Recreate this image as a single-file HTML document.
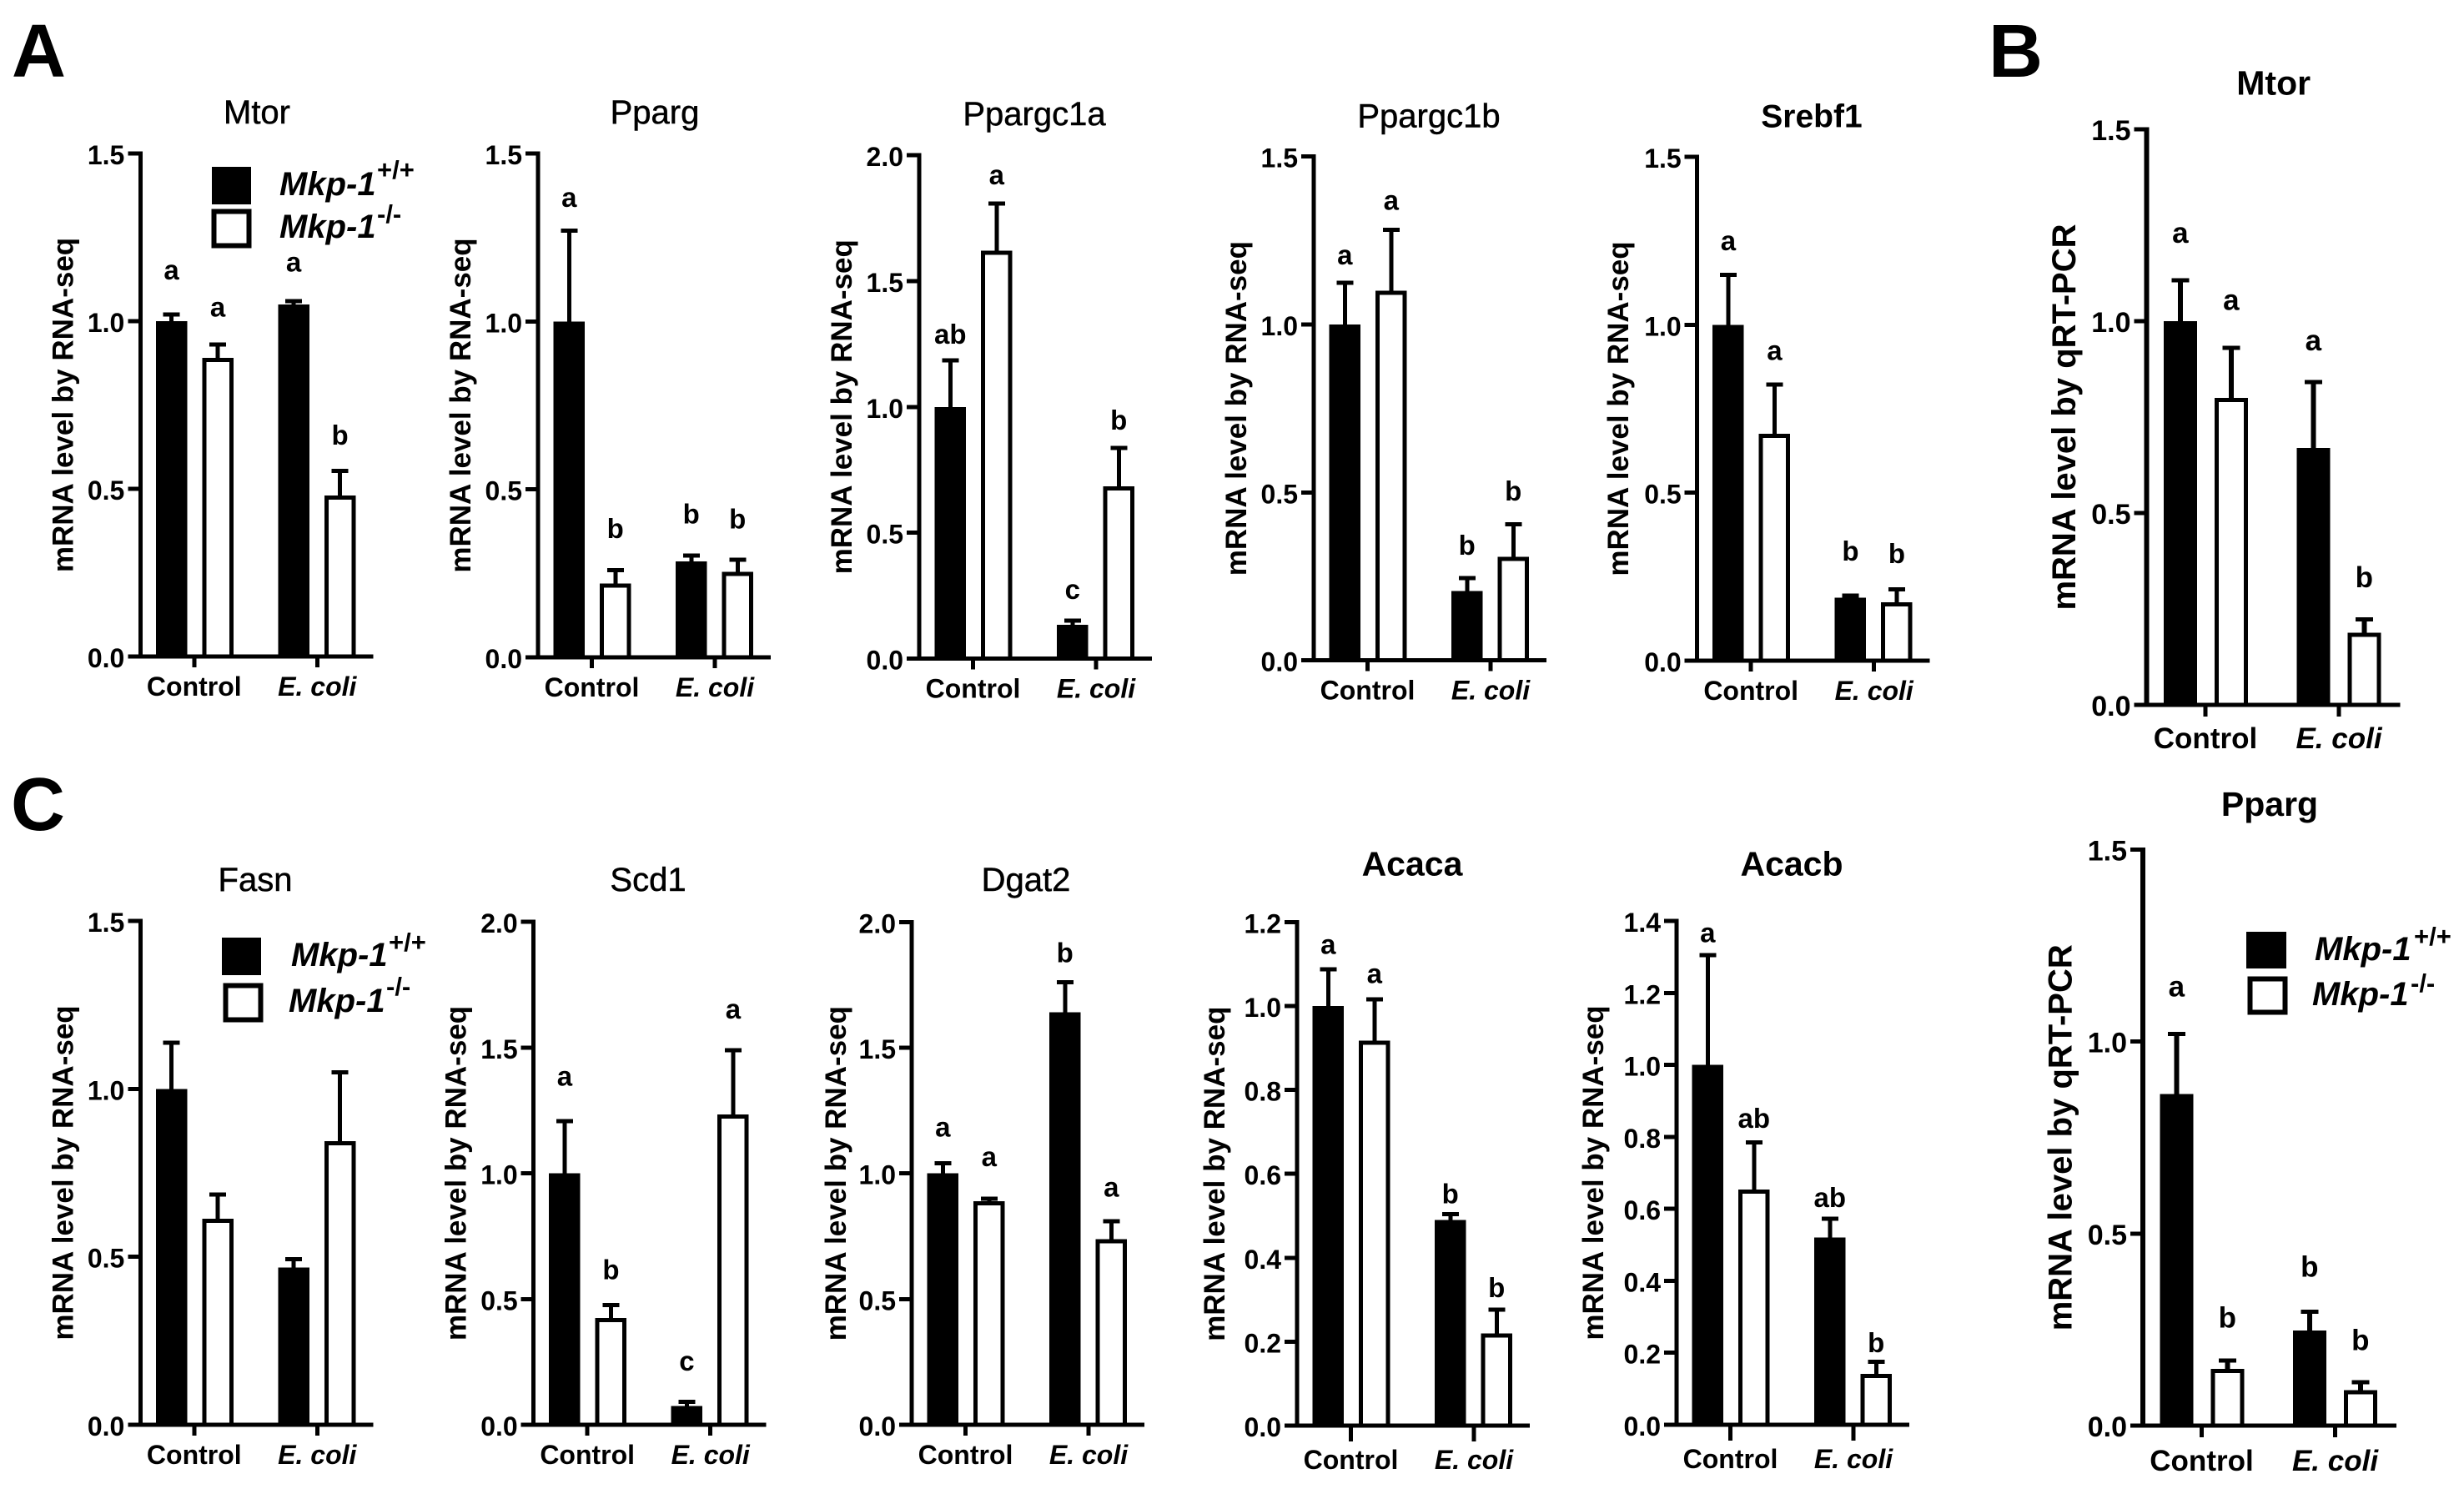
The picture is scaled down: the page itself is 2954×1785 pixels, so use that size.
<!DOCTYPE html>
<html lang="en">
<head>
<meta charset="utf-8">
<title>mRNA levels by RNA-seq and qRT-PCR</title>
<style>
html,body{margin:0;padding:0;background:#fff;width:2954px;height:1785px;overflow:hidden}
svg{display:block}
text{font-family:"Liberation Sans",Arial,sans-serif;fill:#000}
rect,line{shape-rendering:crispEdges}
.b{font-weight:700}
.bi{font-weight:700;font-style:italic}
</style>
</head>
<body>
<svg id="figure" xmlns="http://www.w3.org/2000/svg" width="2954" height="1785" viewBox="0 0 2954 1785">
  <rect x="0" y="0" width="2954" height="1785" fill="#fff"/>
  <text class="b" x="14" y="92" font-size="90">A</text>
  <text class="b" x="2384" y="92" font-size="90">B</text>
  <text class="b" x="13" y="995" font-size="90">C</text>

  <g>
    <rect x="254" y="200" width="47" height="45" fill="#000"/>
    <rect x="256.5" y="253.5" width="42" height="41" fill="#fff" stroke="#000" stroke-width="6"/>
    <text class="bi" x="335" y="234" font-size="40">Mkp-1</text>
    <text class="b" x="452" y="214" font-size="31">+/+</text>
    <text class="bi" x="335" y="285" font-size="40">Mkp-1</text>
    <text class="b" x="452" y="267" font-size="31">-/-</text>
  </g>
  <g>
    <rect x="266" y="1124" width="47" height="45" fill="#000"/>
    <rect x="270.5" y="1181.5" width="42" height="41" fill="#fff" stroke="#000" stroke-width="6"/>
    <text class="bi" x="349" y="1158" font-size="40">Mkp-1</text>
    <text class="b" x="466" y="1140" font-size="31">+/+</text>
    <text class="bi" x="346" y="1213" font-size="40">Mkp-1</text>
    <text class="b" x="463" y="1193" font-size="31">-/-</text>
  </g>
  <g>
    <rect x="2693" y="1117" width="48" height="44" fill="#000"/>
    <rect x="2697.5" y="1173.5" width="42" height="40" fill="#fff" stroke="#000" stroke-width="6"/>
    <text class="bi" x="2775" y="1151" font-size="40">Mkp-1</text>
    <text class="b" x="2894" y="1133" font-size="31">+/+</text>
    <text class="bi" x="2772" y="1205" font-size="40">Mkp-1</text>
    <text class="b" x="2890" y="1189" font-size="31">-/-</text>
  </g>
</svg>

<script>
// ---------- chart data ----------
const groupLabels = ['Control', 'E. coli'];
const genes = ['Mtor','Pparg','Ppargc1a','Ppargc1b','Srebf1','Mtor','Pparg','Fasn','Scd1','Dgat2','Acaca','Acacb'];
const panelIds = ['a-mtor','a-pparg','a-ppargc1a','a-ppargc1b','a-srebf1','b-mtor','b-pparg','c-fasn','c-scd1','c-dgat2','c-acaca','c-acacb'];
const yAxisTitles = ['mRNA level by RNA-seq','mRNA level by RNA-seq','mRNA level by RNA-seq','mRNA level by RNA-seq','mRNA level by RNA-seq','mRNA level by qRT-PCR','mRNA level by qRT-PCR','mRNA level by RNA-seq','mRNA level by RNA-seq','mRNA level by RNA-seq','mRNA level by RNA-seq','mRNA level by RNA-seq'];
const yMax = [1.5,1.5,2.0,1.5,1.5,1.5,1.5,1.5,2.0,2.0,1.2,1.4];
const yStep = [0.5,0.5,0.5,0.5,0.5,0.5,0.5,0.5,0.5,0.5,0.2,0.2];

// bar order in each panel: Control +/+, Control -/-, E. coli +/+, E. coli -/-
const means = [
  [1.00,0.89,1.05,0.48],
  [1.00,0.22,0.285,0.255],
  [1.00,1.62,0.135,0.685],
  [1.00,1.10,0.207,0.308],
  [1.00,0.675,0.188,0.174],
  [1.00,0.80,0.67,0.188],
  [0.863,0.148,0.248,0.092],
  [1.00,0.613,0.468,0.844],
  [1.00,0.425,0.075,1.234],
  [1.00,0.89,1.642,0.738],
  [1.00,0.917,0.49,0.22],
  [1.00,0.654,0.52,0.141]
];
const errorTops = [
  [1.02,0.93,1.06,0.553],
  [1.27,0.26,0.303,0.29],
  [1.185,1.807,0.15,0.837],
  [1.124,1.282,0.245,0.405],
  [1.148,0.822,0.194,0.212],
  [1.107,0.93,0.841,0.223],
  [1.02,0.169,0.297,0.113],
  [1.138,0.686,0.493,1.049],
  [1.208,0.476,0.092,1.49],
  [1.04,0.899,1.76,0.809],
  [1.087,1.016,0.504,0.276],
  [1.305,0.785,0.572,0.175]
];
const sigLetters = [
  ['a','a','a','b'],
  ['a','b','b','b'],
  ['ab','a','c','b'],
  ['a','a','b','b'],
  ['a','a','b','b'],
  ['a','a','a','b'],
  ['a','b','b','b'],
  ['','','',''],
  ['a','b','c','a'],
  ['a','a','b','a'],
  ['a','a','b','b'],
  ['a','ab','ab','b']
];
// height of each significance letter above its error bar, in axis units
const sigGaps = [
  [0.128,0.107,0.112,0.109],
  [0.095,0.125,0.126,0.123],
  [0.105,0.108,0.118,0.113],
  [0.079,0.083,0.099,0.101],
  [0.097,0.097,0.134,0.108],
  [0.118,0.120,0.104,0.110],
  [0.118,0.112,0.117,0.110],
  [0,0,0,0],
  [0.172,0.142,0.155,0.156],
  [0.138,0.161,0.120,0.131],
  [0.056,0.058,0.050,0.054],
  [0.058,0.068,0.061,0.055]
];

// ---------- panel frames (layout only) ----------
const frames = [
  {x:168.3,top:184,base:787,tx:308,ty:148,weight:400,size:40,titleOff:81,lab:47,tick:13,q:0},
  {x:645,top:184,base:788,tx:785,ty:148,weight:400,size:40,titleOff:81,lab:47,tick:13,q:0},
  {x:1102,top:186,base:789.5,tx:1240,ty:150,weight:400,size:40,titleOff:81,lab:47,tick:13,q:0},
  {x:1575,top:187.7,base:791.6,tx:1713,ty:152.7,weight:400,size:40,titleOff:81,lab:47,tick:13,q:0},
  {x:2034.7,top:188,base:792,tx:2172,ty:152.7,weight:700,size:39,titleOff:82.7,lab:47,tick:13,q:0},
  {x:2573.5,top:155,base:845,tx:2725.7,ty:113.7,weight:700,size:41,titleOff:85.5,lab:52,tick:14,q:1},
  {x:2569,top:1018.5,base:1709,tx:2721,ty:978,weight:700,size:41,titleOff:85.5,lab:54,tick:14,q:1},
  {x:168.3,top:1104,base:1708,tx:306,ty:1068,weight:400,size:40,titleOff:81,lab:47,tick:13,q:0},
  {x:639.7,top:1105,base:1708,tx:777,ty:1068,weight:400,size:40,titleOff:81,lab:47,tick:13,q:0},
  {x:1093,top:1105.4,base:1708,tx:1230,ty:1068,weight:400,size:40,titleOff:79,lab:47,tick:13,q:0},
  {x:1555,top:1105.4,base:1709,tx:1693,ty:1049.5,weight:700,size:41,titleOff:87,lab:52,tick:19,q:0},
  {x:2010,top:1104,base:1708,tx:2148,ty:1049.5,weight:700,size:41,titleOff:88,lab:52,tick:19,q:0}
];
const bandStd = {first:18.5,groupGap:146.5,seriesGap:55.5,width:37.5,tick:64.5,tickGap:147.5,right:279,cap:20,axis:5,stem:5};
const bandQ = {first:20.3,groupGap:159.5,seriesGap:61,width:40,tick:70.5,tickGap:160,right:304,cap:21,axis:6,stem:6};

const SVGNS = 'http://www.w3.org/2000/svg';
const root = document.getElementById('figure');

function mk(tag, parent, attrs, txt) {
  const el = document.createElementNS(SVGNS, tag);
  for (const k in attrs) el.setAttribute(k, attrs[k]);
  if (txt !== undefined) el.textContent = txt;
  parent.appendChild(el);
  return el;
}

genes.forEach(function (gene, p) {
  const f = frames[p];
  const band = f.q ? bandQ : bandStd;
  const id = panelIds[p];
  const y = function (v) { return f.base - (v / yMax[p]) * (f.base - f.top); };
  const barX = function (i) {
    return f.x + band.first + Math.floor(i / 2) * band.groupGap + (i % 2) * band.seriesGap;
  };
  const g = mk('g', root, {});
  
  

  const titleAttrs = {x: f.tx, y: f.ty, 'text-anchor': 'middle', 'font-size': f.size, 'font-weight': f.weight};
  if (f.weight === 400) { titleAttrs.stroke = '#000'; titleAttrs['stroke-width'] = 0.5; }
  const title = mk('text', g, titleAttrs, gene);
  
  

  const yMid = (f.top + f.base) / 2;
  const yx = f.x - f.titleOff;
  const yTitle = mk('text', g, {x: yx, y: yMid, 'text-anchor': 'middle', 'font-size': f.q ? 40 : 35, 'font-weight': 700, transform: 'rotate(-90 ' + yx + ' ' + yMid + ')'}, yAxisTitles[p]);
  
  

  // bars, error bars, significance letters
  means[p].forEach(function (v, i) {
    const x0 = barX(i);
    const cx = x0 + band.width / 2;
    const yTopErr = y(errorTops[p][i]);
    const stem = mk('rect', g, {x: cx - band.stem / 2, y: yTopErr, width: band.stem, height: Math.max(0, y(v) - yTopErr), fill: '#000'});
    
    
    const cap = mk('rect', g, {x: cx - band.cap / 2, y: yTopErr - 2.5, width: band.cap, height: 5, fill: '#000'});
    
    

    const isWild = i % 2 === 0;
    const bar = mk('rect', g, isWild
      ? {x: x0, y: y(v), width: band.width, height: f.base - y(v), fill: '#000'}
      : {x: x0 + 2.5, y: y(v) + 2.5, width: band.width - 5, height: f.base - y(v) - 2.5, fill: '#fff', stroke: '#000', 'stroke-width': 5});
    
    

    const letter = sigLetters[p][i];
    if (letter) {
      const dy = letter.indexOf('b') >= 0 ? 12 : 9.5;
      const sig = mk('text', g, {x: cx, y: y(errorTops[p][i] + sigGaps[p][i]) + dy, 'text-anchor': 'middle', 'font-size': f.q ? 35 : 33, 'font-weight': 700}, letter);
      
      
    }
  });

  // y axis
  const yAxis = mk('rect', g, {x: f.x - band.axis / 2, y: f.top - 2.5, width: band.axis, height: f.base - f.top + 5, fill: '#000'});
  
  
  const nTicks = Math.round(yMax[p] / yStep[p]);
  for (let t = 0; t <= nTicks; t++) {
    const val = t * yStep[p];
    const tick = mk('rect', g, {x: f.x - 15, y: y(val) - 2.5, width: 15, height: 5, fill: '#000'});
    
    
    const lab = mk('text', g, {x: f.x - 19, y: y(val) + 13, 'text-anchor': 'end', 'font-size': f.q ? 34 : 32, 'font-weight': 700}, val.toFixed(1));
    
    
  }

  // x axis
  const xAxis = mk('rect', g, {x: f.x - 15, y: f.base - 2.5, width: band.right + 15, height: 5, fill: '#000'});
  
  
  groupLabels.forEach(function (name, gi) {
    const gx = f.x + band.tick + gi * band.tickGap;
    const tick = mk('rect', g, {x: gx - 2.5, y: f.base, width: 5, height: f.tick, fill: '#000'});
    
    
    const lab = mk('text', g, {x: gx, y: f.base + f.lab, 'text-anchor': 'middle', 'font-size': f.q ? 35 : 32, 'font-weight': 700, 'font-style': gi ? 'italic' : 'normal'}, name);
    
    
  });
});
</script>
</body>
</html>
